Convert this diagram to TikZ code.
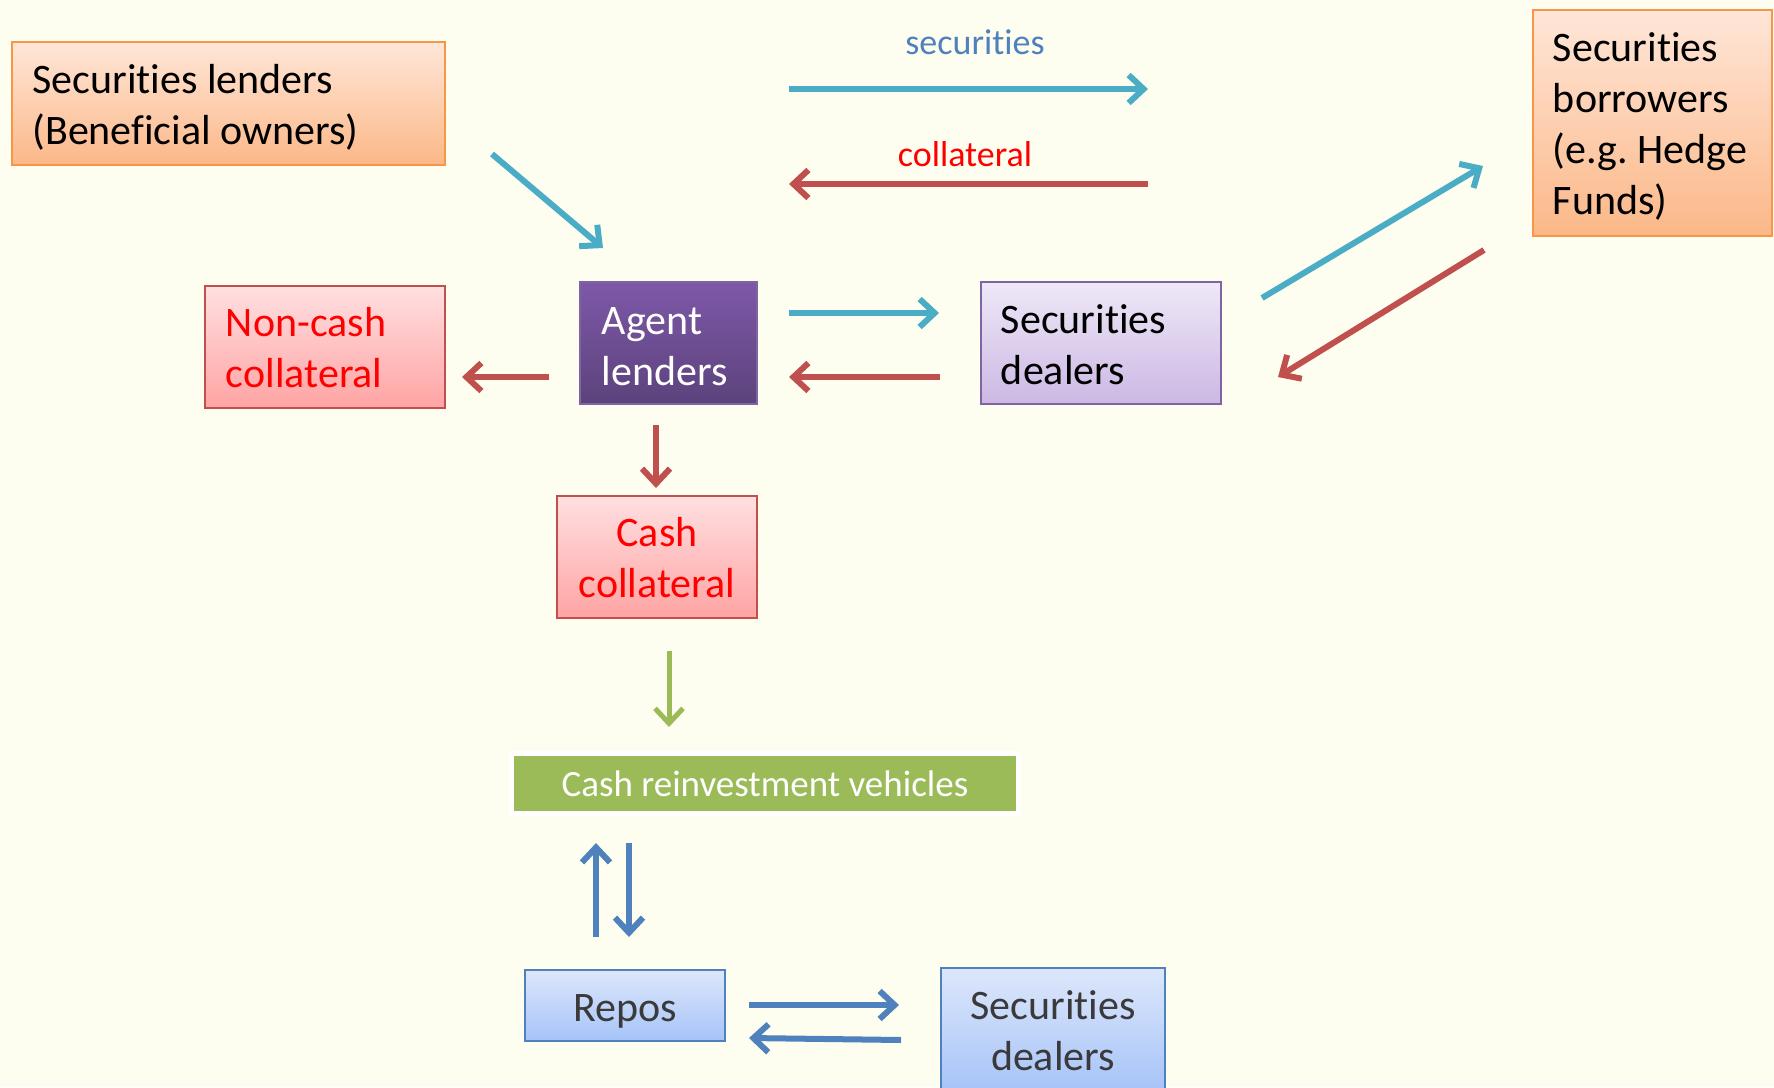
\documentclass[tikz,border=0pt]{standalone}
\usepackage{fontspec}
\setmainfont{Carlito}[Ligatures=NoCommon]
\frenchspacing
\usetikzlibrary{arrows.meta,shadings}
\definecolor{bg}{HTML}{FEFEF0}
\definecolor{teal}{HTML}{4BACC6}
\definecolor{redarr}{HTML}{C0504D}
\definecolor{greenarr}{HTML}{9BBB59}
\definecolor{bluearr}{HTML}{4F81BD}
\definecolor{orangeB}{HTML}{F79646}
\definecolor{orangeT}{HTML}{FFE6D8}
\definecolor{orangeL}{HTML}{FBB888}
\definecolor{pinkT}{HTML}{FFE0E1}
\definecolor{pinkL}{HTML}{FFA3A3}
\definecolor{purpT}{HTML}{7E58A8}
\definecolor{purpL}{HTML}{5C437C}
\definecolor{purpB}{HTML}{8064A2}
\definecolor{lavT}{HTML}{EEE8F7}
\definecolor{lavL}{HTML}{CCB8E4}
\definecolor{blueT}{HTML}{DDE7FB}
\definecolor{blueL}{HTML}{A6C3F8}
\definecolor{darktext}{HTML}{3A3A3A}
\definecolor{labelblue}{HTML}{4F81BD}
\tikzset{
  box/.style={rectangle, line width=2.5pt, inner sep=0pt},
  obox/.style={box, draw=orangeB, top color=orangeT, bottom color=orangeL},
  pbox/.style={box, draw=redarr, top color=pinkT, bottom color=pinkL},
  abox/.style={box, draw=purpB, top color=purpT, bottom color=purpL},
  lbox/.style={box, draw=purpB, top color=lavT, bottom color=lavL},
  bbox/.style={box, draw=bluearr, top color=blueT, bottom color=blueL},
  txt/.style={inner sep=0pt, font=\fontsize{42}{51}\selectfont},
  ltxt/.style={txt, align=left, anchor=west},
  ctxt/.style={txt, align=center},
  arr/.style={line width=6pt, -{Straight Barb[length=15pt,width=28pt]}},
  lab/.style={font=\fontsize{36}{43}\selectfont}
}
\begin{document}
\begin{tikzpicture}[x=1pt,y=-1pt]
\useasboundingbox[fill=bg] (0,0) rectangle (1774,1087);

% boxes
\node[obox, minimum width=433pt, minimum height=123pt] (lendbox) at (228.5,103.5) {};
\node[ltxt] (lend) at ([xshift=21.5pt,yshift=-4pt]lendbox.west) {Securities lenders\\(Beneficial owners)};

\node[obox, minimum width=239pt, minimum height=226pt] (borrbox) at (1652.5,123) {};
\node[ltxt] (borr) at ([xshift=21pt,yshift=-3pt]borrbox.west) {Securities\\borrowers\\(e.g. Hedge\\Funds)};

\node[pbox, minimum width=240pt, minimum height=122pt] (noncashbox) at (325,347) {};
\node[ltxt, text=red] (noncash) at ([xshift=22pt,yshift=-1pt]noncashbox.west) {Non-cash\\collateral};

\node[abox, minimum width=177pt, minimum height=122pt] (agentbox) at (668.5,343) {};
\node[ltxt, text=white] (agent) at ([xshift=23pt,yshift=-3.5pt]agentbox.west) {Agent\\lenders};

\node[lbox, minimum width=240pt, minimum height=122pt] (dealbox) at (1101,343) {};
\node[ltxt] (deal) at ([xshift=21pt,yshift=-2pt]dealbox.west) {Securities\\dealers};

\node[pbox, minimum width=200pt, minimum height=122pt] (cashbox) at (657,557) {};
\node[ctxt, text=red] (cash) at ([yshift=-1pt]cashbox.center) {Cash\\collateral};

\node[box, fill=greenarr, line width=0pt, minimum width=502pt, minimum height=55pt,
  preaction={draw=white, line width=10pt}] (reinvbox) at (765,783.5) {};
\node[txt, text=white, font=\fontsize{37}{44}\selectfont] (reinv) at (reinvbox.center) {Cash reinvestment vehicles};

\node[bbox, minimum width=200pt, minimum height=71pt] (reposbox) at (625,1005.5) {};
\node[ctxt, text=darktext] (repos) at ([yshift=-5.5pt]reposbox.center) {Repos};

\node[bbox, minimum width=224pt, minimum height=124pt] (deal2box) at (1053,1030) {};
\node[ctxt, text=darktext] (deal2) at ([yshift=-1pt]deal2box.center) {Securities\\dealers};

% labels
\node[lab, text=labelblue] (seclab) at (975,42) {securities};
\node[lab, text=red] (collab) at (965,154) {collateral};

% arrow end points
\coordinate (s1) at (789,89);   \coordinate (s2) at (1148,89);
\coordinate (c1) at (1148,184); \coordinate (c2) at (789,184);
\coordinate (l1) at (492,154);  \coordinate (l2) at (603,248);
\coordinate (ad1) at (789,313); \coordinate (ad2) at (939,313);
\coordinate (da1) at (940,377); \coordinate (da2) at (789,377);
\coordinate (an1) at (549,377); \coordinate (an2) at (462,377);
\coordinate (ac1) at (656,425); \coordinate (ac2) at (656,488);
\coordinate (db1) at (1262,298); \coordinate (db2) at (1483,166);
\coordinate (bd1) at (1484,250); \coordinate (bd2) at (1278,377);
\coordinate (cr1) at (669,651); \coordinate (cr2) at (669,727);
\coordinate (up1) at (596,937); \coordinate (up2) at (596,843);
\coordinate (dn1) at (629,843); \coordinate (dn2) at (629,937);
\coordinate (rd1) at (749,1005); \coordinate (rd2) at (899,1005);
\coordinate (dr1) at (901,1040); \coordinate (dr2) at (749,1038);

% arrows
\draw[arr, teal] (s1) -- (s2);
\draw[arr, redarr] (c1) -- (c2);
\draw[arr, teal] (l1) -- (l2);
\draw[arr, teal] (ad1) -- (ad2);
\draw[arr, redarr] (da1) -- (da2);
\draw[arr, redarr] (an1) -- (an2);
\draw[arr, redarr] (ac1) -- (ac2);
\draw[arr, teal] (db1) -- (db2);
\draw[arr, redarr] (bd1) -- (bd2);
\draw[arr, greenarr, line width=5pt] (cr1) -- (cr2);
\draw[arr, bluearr] (up1) -- (up2);
\draw[arr, bluearr] (dn1) -- (dn2);
\draw[arr, bluearr] (rd1) -- (rd2);
\draw[arr, bluearr] (dr1) -- (dr2);
\end{tikzpicture}
\end{document}
